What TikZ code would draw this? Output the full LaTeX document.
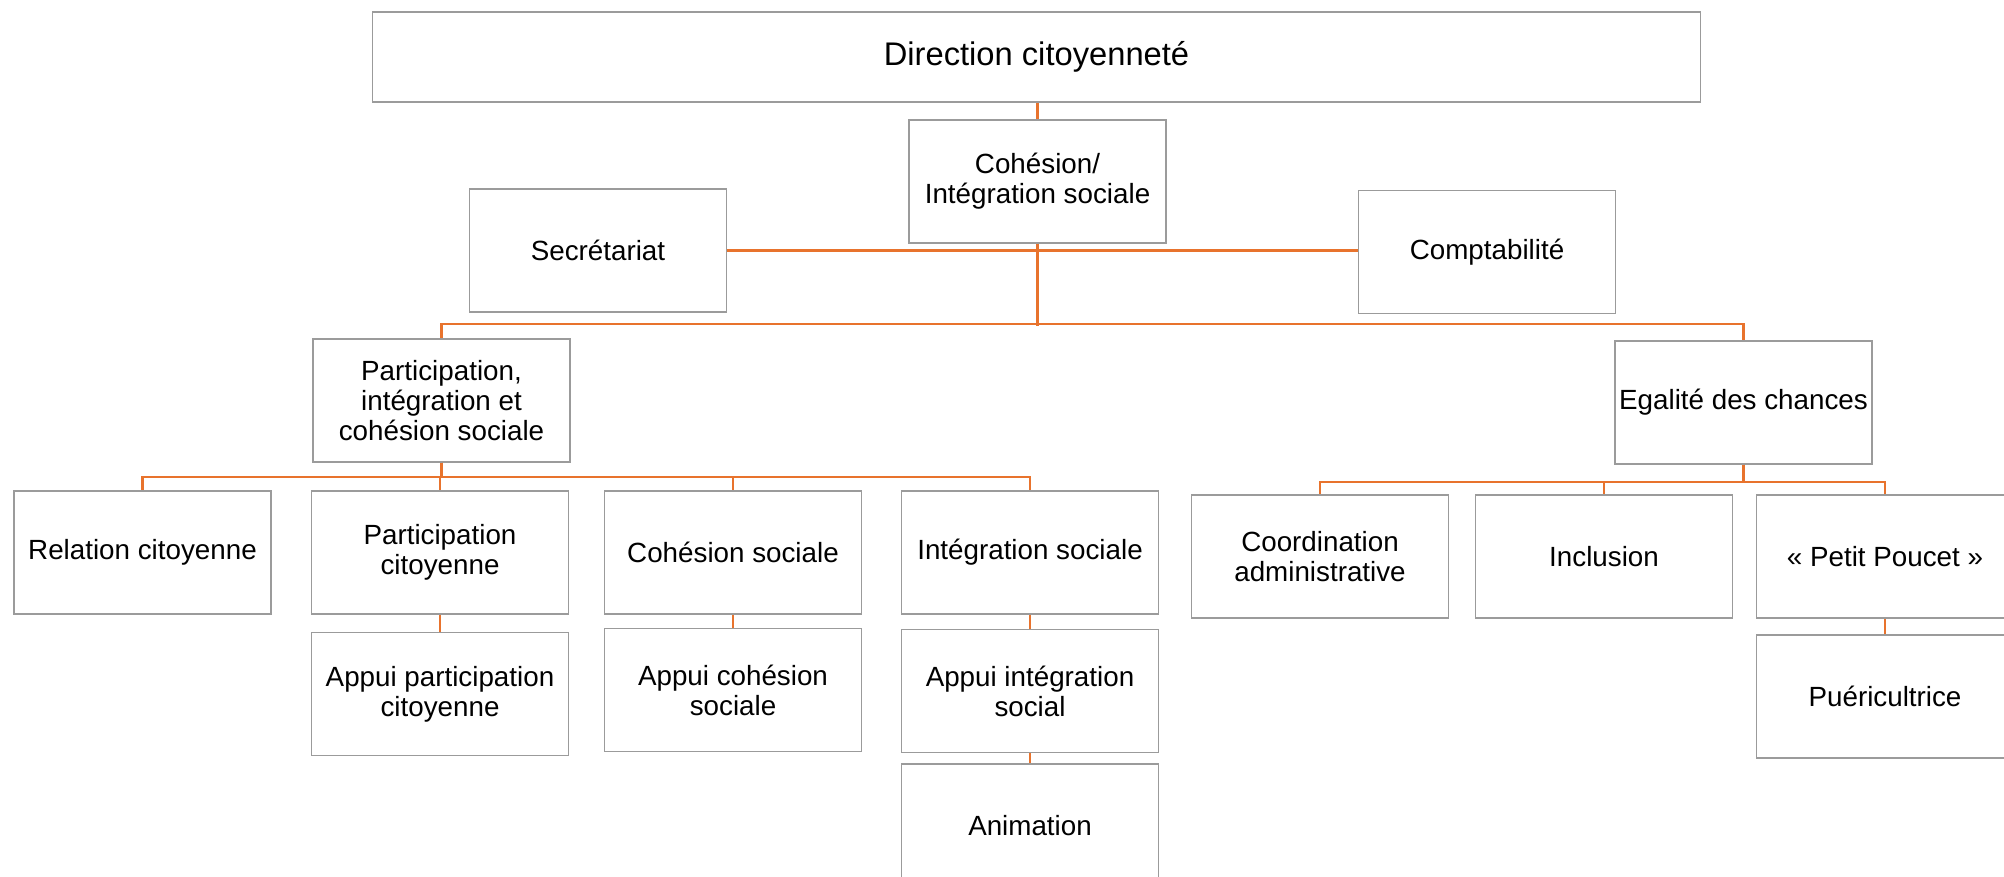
\documentclass[tikz,border=0pt]{standalone}
\usepackage{fontspec}
\setmainfont{Liberation Sans}
\usetikzlibrary{positioning}
\definecolor{LineOrange}{RGB}{232,115,45}
\definecolor{BoxGray}{RGB}{155,155,155}
\tikzset{
  orgbox/.style={draw=BoxGray,line width=0.4pt,fill=white,rectangle,
    minimum width=2.57cm,minimum height=1.23cm,inner sep=1pt,align=center,
    font=\fontsize{7.9pt}{8.5pt}\selectfont},
  titlebox/.style={orgbox,minimum width=13.27cm,minimum height=0.9cm,
    font=\fontsize{9.3pt}{10pt}\selectfont},
  orgline/.style={draw=LineOrange,line width=0.6pt},
}

\begin{document}
\begin{tikzpicture}[x=0.01cm,y=-0.01cm]
  \clip (0,0) rectangle (2004,877);
  \node[titlebox] (dir) at (1036.5,57) {Direction citoyenneté};
  \node[orgbox] (coh) at (1037.5,181.5) {Cohésion/\\Intégration sociale};
  \node[orgbox] (sec) at (598,250.5) {Secrétariat};
  \node[orgbox] (compta) at (1487,252) {Comptabilité};
  \node[orgbox] (pics) at (441.5,400.5) {Participation,\\intégration et\\cohésion sociale};
  \node[orgbox] (egal) at (1743.5,402.5) {Egalité des chances};

  \node[orgbox] (relcit) at (142.5,552.5) {Relation citoyenne};
  \node[orgbox] (partcit) at (440,552.5) {Participation\\citoyenne};
  \node[orgbox] (cohsoc) at (733,552.5) {Cohésion sociale};
  \node[orgbox] (integ) at (1030,552.5) {Intégration sociale};
  \node[orgbox,below=0.17cm of partcit] (appart) {Appui participation\\citoyenne};
  \node[orgbox,below=0.13cm of cohsoc] (appcoh) {Appui cohésion\\sociale};
  \node[orgbox,below=0.14cm of integ] (appint) {Appui intégration\\social};
  \node[orgbox,below=0.1cm of appint] (anim) {Animation};

  \node[orgbox] (coord) at (1320,556.5) {Coordination\\administrative};
  \node[orgbox] (incl) at (1604,556.5) {Inclusion};
  \node[orgbox] (poucet) at (1885,556.5) {« Petit Poucet »};
  \node[orgbox,below=0.155cm of poucet] (puer) {Puéricultrice};

  \draw[orgline] (coh.north) -- (coh.north |- dir.south);
  \draw[orgline] (sec.east) -- (sec.east -| compta.west);
  \draw[orgline] (coh.south) -- ++(0,82);
  \draw[orgline] (pics.north) -- ++(0,-14) -| (egal.north);
  \foreach \kid in {relcit,partcit,cohsoc,integ}
    \draw[orgline] (pics.south) -- ++(0,14) -| (\kid.north);
  \foreach \kid in {coord,incl,poucet}
    \draw[orgline] (egal.south) -- ++(0,17) -| (\kid.north);
  \draw[orgline] (partcit) -- (appart);
  \draw[orgline] (cohsoc) -- (appcoh);
  \draw[orgline] (integ) -- (appint);
  \draw[orgline] (appint) -- (anim);
  \draw[orgline] (poucet) -- (puer);
\end{tikzpicture}
\end{document}
